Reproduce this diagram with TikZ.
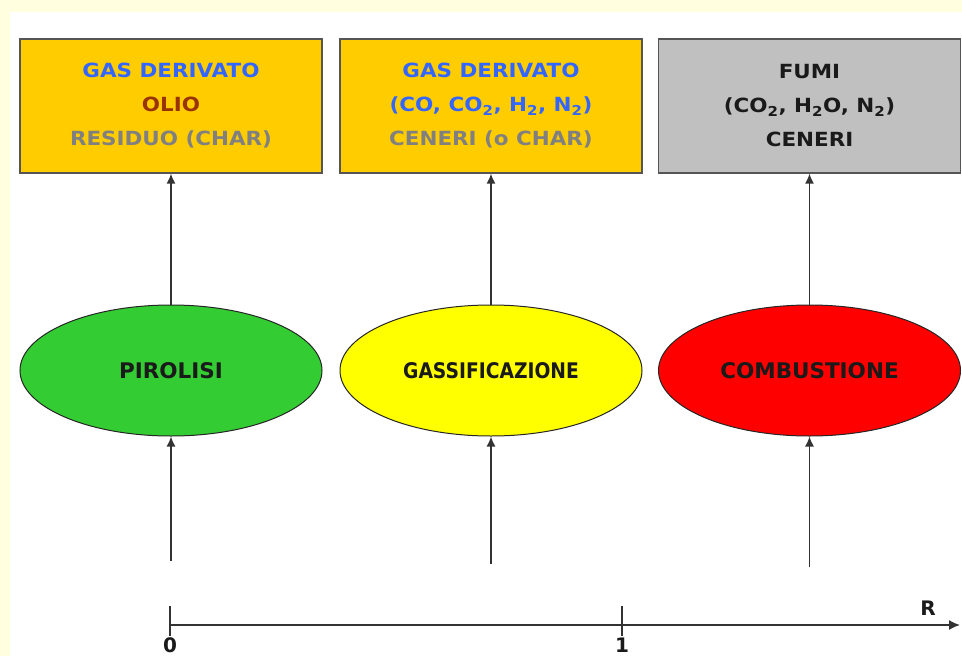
\documentclass[tikz,border=0pt]{standalone}
\usepackage{fontspec}
\setmainfont{DejaVu Sans}
\newfontfamily\boxfont[FakeStretch=1.1]{DejaVu Sans}
\usetikzlibrary{shapes.geometric,arrows.meta}
\definecolor{bgyel}{HTML}{FFFFE0}
\definecolor{boxyel}{HTML}{FFCC00}
\definecolor{boxgray}{HTML}{C0C0C0}
\definecolor{boxline}{HTML}{555555}
\definecolor{txtblue}{HTML}{3366FF}
\definecolor{txtbrown}{HTML}{993300}
\definecolor{txtgray}{HTML}{808080}
\definecolor{txtdark}{HTML}{1A1A1A}
\definecolor{pgreen}{HTML}{33CC33}
\definecolor{pyellow}{HTML}{FFFF00}
\definecolor{pred}{HTML}{FF0000}
\definecolor{linegray}{HTML}{333333}
\newcommand{\sbs}[1]{\textsubscript{#1}}
\begin{document}
\begin{tikzpicture}[x=1pt,y=-1pt,
  box/.style={draw=boxline, line width=1.2pt, minimum width=302pt, minimum height=134pt,
    inner sep=0pt, align=center, font=\boxfont\bfseries\fontsize{19.5}{34}\selectfont},
  proc/.style={ellipse, draw=black!85, line width=1pt, minimum width=302pt,
    minimum height=131pt, inner sep=0pt, font=\bfseries\fontsize{21.5}{24}\selectfont, text=txtdark},
  conn/.style={draw=linegray, line width=1.5pt, -{Latex[length=10pt,width=9pt]}},
  axisline/.style={draw=linegray, line width=1.5pt},
  axlabel/.style={font=\bfseries\fontsize{20}{24}\selectfont, text=txtdark, inner sep=0pt}]
\useasboundingbox (0,0) rectangle (962,656);
\fill[bgyel] (0,0) rectangle (962,656);
\fill[white] (10,12) rectangle (962,656);

% output boxes
\node[box, fill=boxyel] (b1) at (171,106)
  {{\color{txtblue}GAS DERIVATO}\\{\color{txtbrown}OLIO}\\{\color{txtgray}RESIDUO (CHAR)}};
\node[box, fill=boxyel] (b2) at (491,106)
  {{\color{txtblue}GAS DERIVATO}\\{\color{txtblue}(CO, CO\sbs{2}, H\sbs{2}, N\sbs{2})}\\{\color{txtgray}CENERI (o CHAR)}};
\node[box, fill=boxgray, text=txtdark] (b3) at (809.5,106)
  {FUMI\\(CO\sbs{2}, H\sbs{2}O, N\sbs{2})\\CENERI};

% processes
\node[proc, fill=pgreen] (e1) at (171,370.5) {PIROLISI};
\node[proc, fill=pyellow] (e2) at (491,370.5) {\scalebox{0.87}[1]{GASSIFICAZIONE}};
\node[proc, fill=pred] (e3) at (809.5,370.5) {COMBUSTIONE};

% arrows
\coordinate (s1) at (171,561);
\coordinate (s2) at (491,564);
\coordinate (s3) at (809.5,567);
\draw[conn] (s1) -- (e1.south);
\draw[conn] (s2) -- (e2.south);
\draw[conn] (s3) -- (e3.south);
\draw[conn] (e1.north) -- (b1.south);
\draw[conn] (e2.north) -- (b2.south);
\draw[conn] (e3.north) -- (b3.south);

% axis
\coordinate (a0) at (170,625);
\coordinate (aend) at (960,625);
\coordinate (t0a) at (170,606);
\coordinate (t0b) at (170,636);
\coordinate (t1a) at (622,606);
\coordinate (t1b) at (622,636);
\draw[axisline, -{Latex[length=11pt,width=10pt]}] (a0) -- (aend);
\draw[axisline] (t0a) -- (t0b);
\draw[axisline] (t1a) -- (t1b);
\node[axlabel] (l0) at (170,645) {0};
\node[axlabel] (l1) at (622,645) {1};
\node[axlabel] (lR) at (928,608) {R};
\end{tikzpicture}
\end{document}
